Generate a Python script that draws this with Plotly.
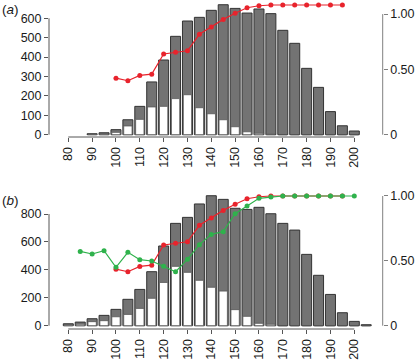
import plotly.graph_objects as go

# ---------------- data ----------------
bins_a = [90, 95, 100, 105, 110, 115, 120, 125, 130, 135, 140, 145, 150, 155, 160,
          165, 170, 175, 180, 185, 190, 195, 200]
total_a = [5, 10, 26, 77, 146, 272, 385, 507, 586, 605, 641, 670, 651, 627, 648,
           624, 538, 471, 342, 244, 119, 46, 19]
white_a = [2, 3, 12, 45, 79, 143, 146, 186, 206, 139, 108, 77, 41, 15, 7,
           2, 0, 0, 0, 0, 0, 0, 0]

bins_b = [80, 85, 90, 95, 100, 105, 110, 115, 120, 125, 130, 135, 140, 145, 150,
          155, 160, 165, 170, 175, 180, 185, 190, 195, 200, 205]
total_b = [14, 26, 50, 74, 117, 189, 260, 387, 571, 733, 776, 872, 931, 905, 841,
           833, 848, 802, 733, 685, 511, 361, 224, 93, 31, 7]
white_b = [5, 10, 29, 36, 64, 81, 124, 196, 310, 425, 382, 325, 275, 248, 115,
           67, 17, 10, 0, 0, 0, 0, 0, 0, 0, 0]

red_x = [100, 105, 110, 115, 120, 125, 130, 135, 140, 145, 150, 155, 160, 165,
         170, 175, 180, 185, 190, 195]
red_y = [0.436, 0.416, 0.457, 0.467, 0.622, 0.635, 0.647, 0.774, 0.830, 0.889,
         0.936, 0.979, 0.994, 1.0, 1.0, 1.0, 1.0, 1.0, 1.0, 1.0]

green_x = [85, 90, 95, 100, 105, 110, 115, 120, 125, 130, 135, 140, 145, 150,
           155, 160, 165, 170, 175, 180, 185, 190, 195, 200]
green_y = [0.573, 0.553, 0.578, 0.450, 0.566, 0.509, 0.499, 0.458, 0.416, 0.512,
           0.625, 0.704, 0.725, 0.864, 0.923, 0.982, 0.992, 1.0, 1.0, 1.0, 1.0,
           1.0, 1.0, 1.0]

x_ticks = [80, 90, 100, 110, 120, 130, 140, 150, 160, 170, 180, 190, 200]
ya_ticks = [0, 100, 200, 300, 400, 500, 600]
yb_ticks = [0, 200, 400, 600, 800]
ya2_ticks = [0, 0.5, 0.93]
yb2_ticks = [0, 0.5, 1.0]
y2_text = ["0", "0.50", "1.00"]

# ---------------- styling ----------------
W, H = 417, 361
GRAY = "#737373"
GRAY_LINE = "#333333"
RED = "#e8232c"
GREEN = "#2fb24c"
AXC = "#555555"
AXR = "#808080"
FONT = dict(family="Liberation Sans, Arial, sans-serif", size=12.5, color="#1a1a1a")

fig = go.Figure()


def add_panel(xa, ya, bins, total, white):
    fig.add_trace(go.Bar(x=bins, y=total, width=4.2, xaxis=xa, yaxis=ya,
                         marker=dict(color=GRAY, line=dict(color=GRAY_LINE, width=1))))
    fig.add_trace(go.Bar(x=bins, y=white, width=3.5, xaxis=xa, yaxis=ya,
                         marker=dict(color="white", line=dict(color="#555555", width=0.8))))


add_panel("x", "y", bins_a, total_a, white_a)
fig.add_trace(go.Scatter(x=red_x, y=red_y, xaxis="x", yaxis="y2", mode="lines+markers",
                         line=dict(color=RED, width=1.2), marker=dict(color=RED, size=5)))

add_panel("x2", "y3", bins_b, total_b, white_b)
fig.add_trace(go.Scatter(x=red_x, y=red_y, xaxis="x2", yaxis="y4", mode="lines+markers",
                         line=dict(color=RED, width=1.2), marker=dict(color=RED, size=5)))
fig.add_trace(go.Scatter(x=green_x, y=green_y, xaxis="x2", yaxis="y4", mode="lines+markers",
                         line=dict(color=GREEN, width=1.2), marker=dict(color=GREEN, size=5)))

xdom = [49 / W, 382.7 / W]
xrange_ = [71.9, 211.92]
common_x = dict(domain=xdom, range=xrange_, tickvals=x_ticks, ticks="outside", ticklen=4,
                tickcolor=AXC, tickangle=-90, showline=False, showgrid=False,
                zeroline=False, tickfont=FONT, automargin=False)
common_y = dict(ticks="outside", ticklen=4, tickcolor=AXC, showline=False, showgrid=False,
                zeroline=False, tickfont=FONT, automargin=False)
common_y2 = dict(ticks="outside", ticklen=4, tickcolor=AXR, showline=False, showgrid=False,
                 zeroline=False, tickfont=FONT, side="right", automargin=False)

fig.update_layout(
    width=W, height=H, margin=dict(l=0, r=0, t=0, b=0, autoexpand=False),
    paper_bgcolor="white", plot_bgcolor="white", showlegend=False, barmode="overlay",
    xaxis=dict(anchor="y", **common_x),
    yaxis=dict(domain=[1 - 137 / H, 1 - 2 / H], range=[-11.86, 684], anchor="x",
               tickvals=ya_ticks, **common_y),
    yaxis2=dict(overlaying="y", anchor="x", range=[-0.01773, 1.0231],
                tickvals=ya2_ticks, ticktext=y2_text, **common_y2),
    xaxis2=dict(anchor="y3", **common_x),
    yaxis3=dict(domain=[1 - 329 / H, 1 - 192 / H], range=[-23.6, 957.7], anchor="x2",
                tickvals=yb_ticks, **common_y),
    yaxis4=dict(overlaying="y3", anchor="x2", range=[-0.02544, 1.0308],
                tickvals=yb2_ticks, ticktext=y2_text, **common_y2),
)

shapes = []
for xa, ya, ya2, yt, y2t in [("x", "y", "y2", ya_ticks, ya2_ticks),
                              ("x2", "y3", "y4", yb_ticks, yb2_ticks)]:
    shapes.append(dict(type="line", xref=xa, yref=ya + " domain", x0=min(x_ticks),
                       x1=max(x_ticks), y0=0, y1=0, line=dict(color=AXC, width=1)))
    shapes.append(dict(type="line", xref=xa + " domain", yref=ya, x0=0, x1=0,
                       y0=min(yt), y1=max(yt), line=dict(color=AXC, width=1)))
    shapes.append(dict(type="line", xref=xa + " domain", yref=ya2, x0=1, x1=1,
                       y0=min(y2t), y1=max(y2t), line=dict(color=AXR, width=1)))
fig.update_layout(shapes=shapes)

fig.add_annotation(text="(<i>a</i>)", xref="paper", yref="paper", x=0, y=1 - 10 / H,
                   xanchor="left", yanchor="middle", showarrow=False,
                   font=dict(family="Liberation Sans, Arial, sans-serif", size=13.5, color="#1a1a1a"))
fig.add_annotation(text="(<i>b</i>)", xref="paper", yref="paper", x=0, y=1 - 200 / H,
                   xanchor="left", yanchor="middle", showarrow=False,
                   font=dict(family="Liberation Sans, Arial, sans-serif", size=13.5, color="#1a1a1a"))

fig.write_html("out.html", config={"displayModeBar": False, "staticPlot": True},
               post_script="document.body.style.margin='0';document.body.style.padding='0';")
